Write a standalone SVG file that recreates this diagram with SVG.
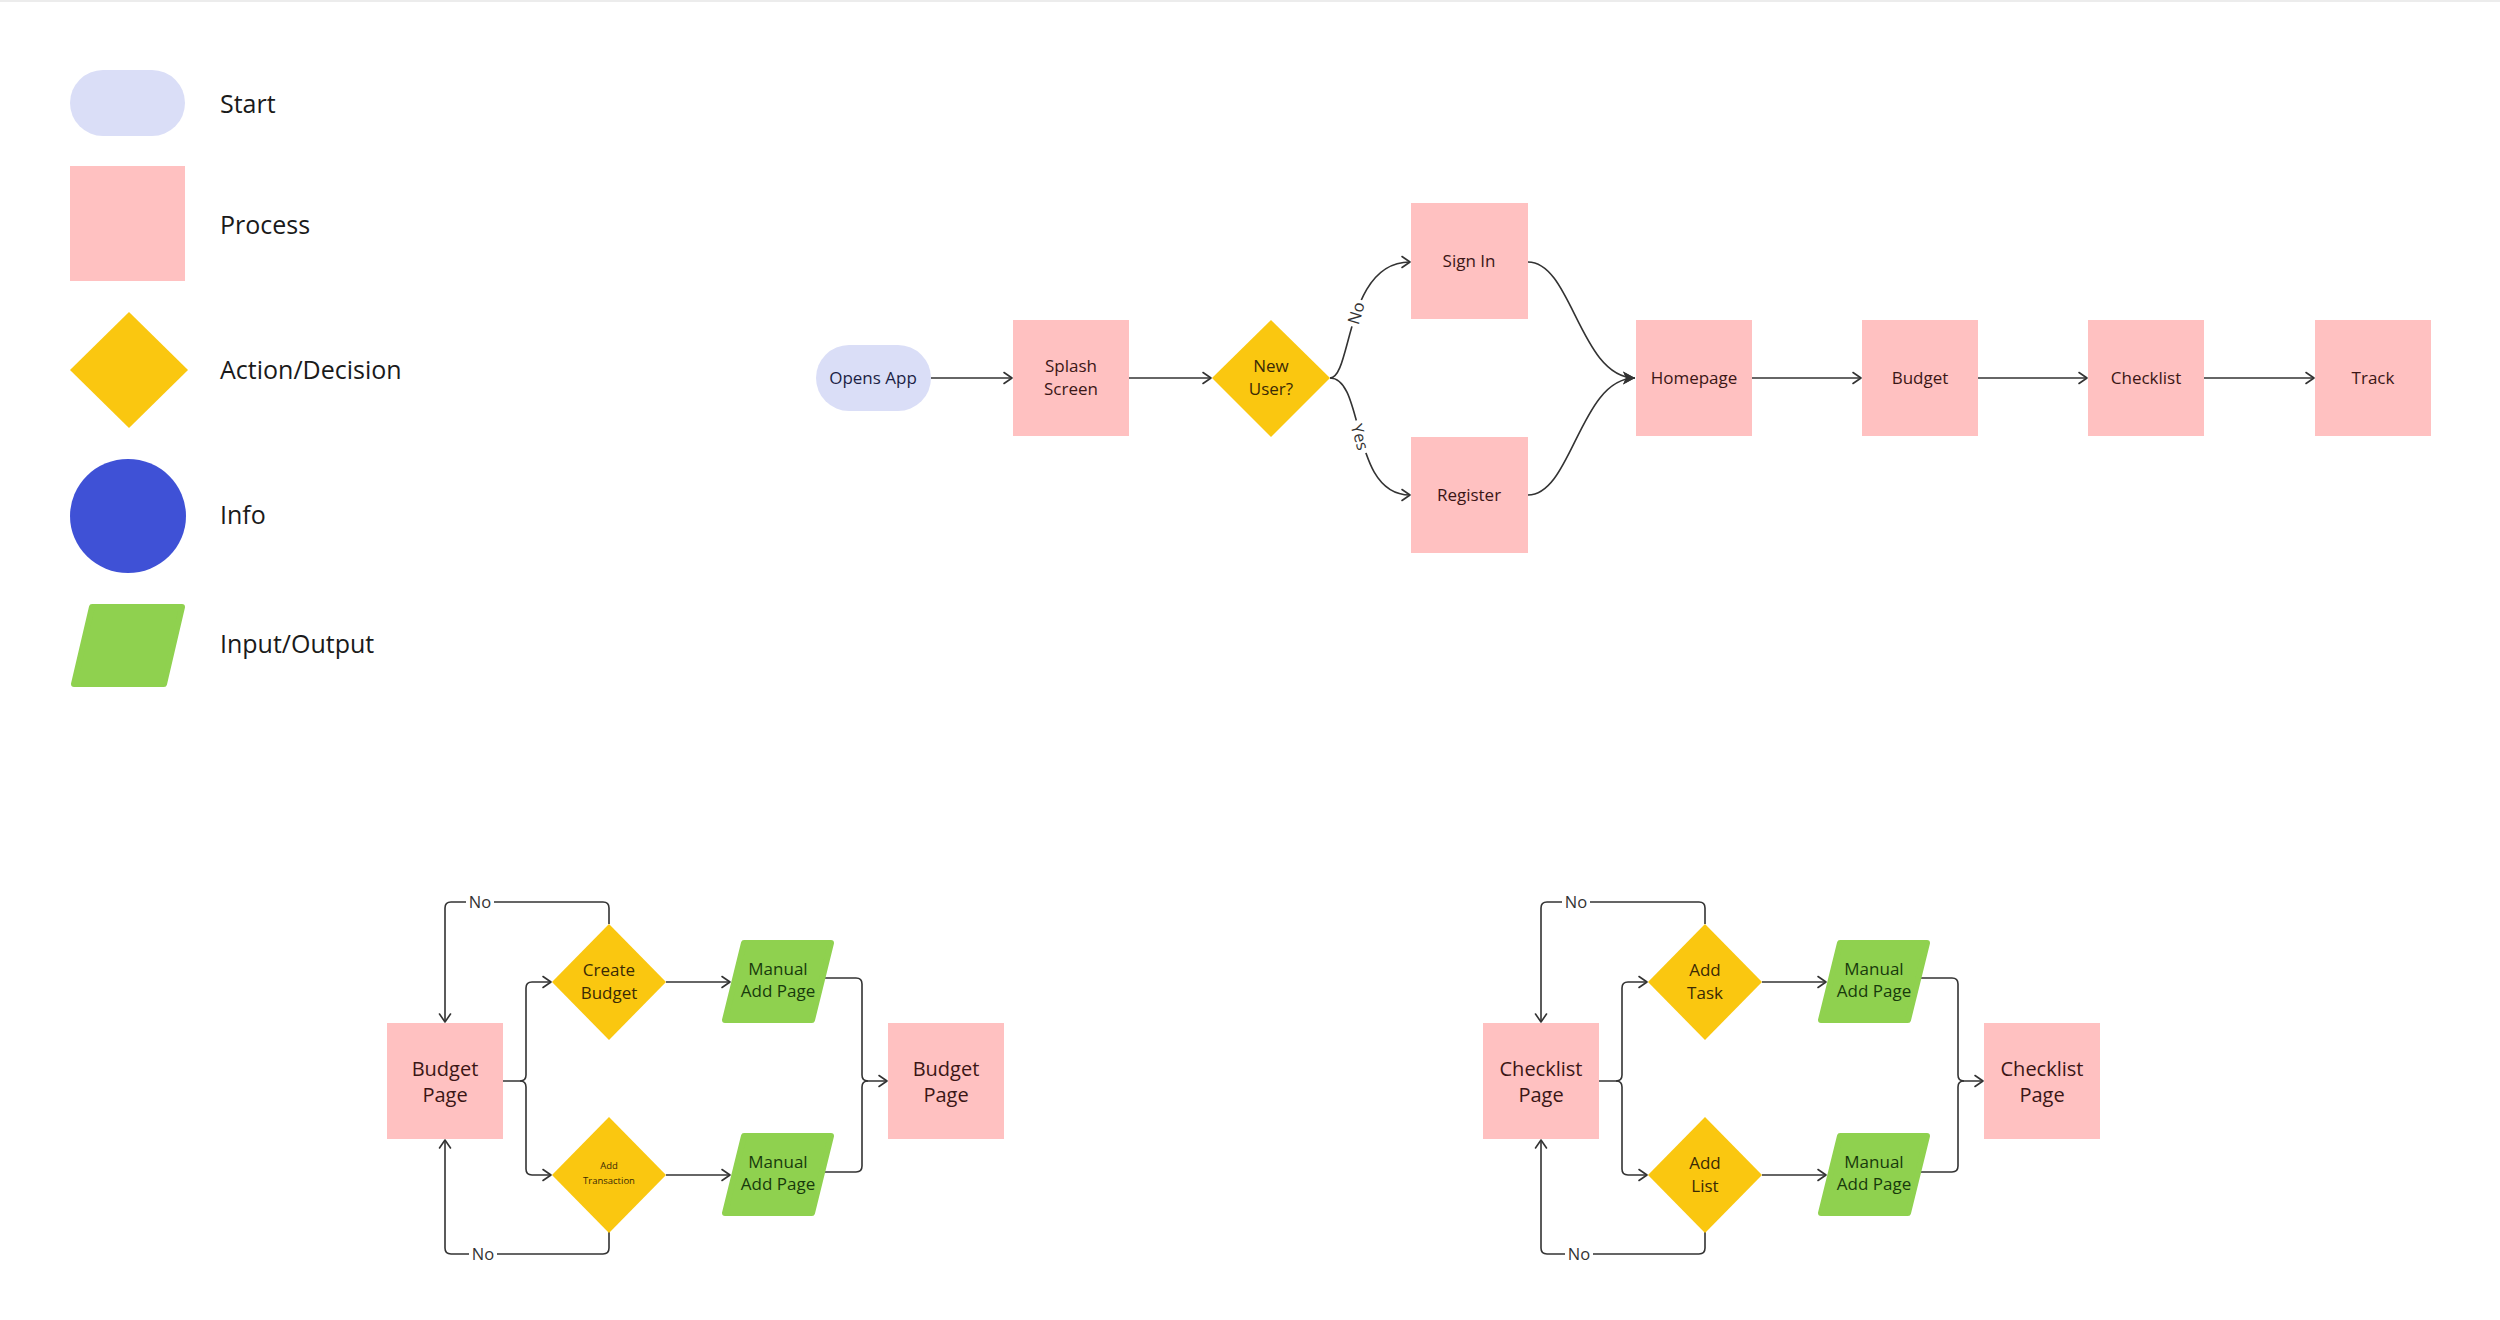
<svg xmlns="http://www.w3.org/2000/svg" width="2500" height="1320" viewBox="0 0 2500 1320">
  <style>
    text { font-family: "Open Sans", "Noto Sans", "Liberation Sans", sans-serif; text-anchor: middle; }
    .leg { font-size: 25px; fill: #1a1a1a; text-anchor: start; }
    .pink { fill: #FFC1C1; }
    .lav { fill: #DADEF7; }
    .yel { fill: #FAC710; }
    .grn { fill: #8FD14F; stroke: #8FD14F; stroke-width: 6; stroke-linejoin: round; }
    .blu { fill: #3F51D6; }
    .tp { font-size: 17px; fill: #3b1616; }
    .tpb { font-size: 20px; fill: #3b1616; }
    .ty { font-size: 17px; fill: #3a2a05; }
    .tys { font-size: 9.5px; fill: #3a2a05; }
    .tg { font-size: 17px; fill: #183a0c; }
    .tl { font-size: 17px; fill: #1c1f45; }
    .lbl { font-size: 16.5px; fill: #333333; }
    .c { fill: none; stroke: #333333; stroke-width: 1.6; }
    .a { marker-end: url(#arr); }
    .ab { marker-end: url(#arrb); }
  </style>
  <defs>
    <marker id="arr" markerUnits="userSpaceOnUse" markerWidth="14" markerHeight="14" refX="11" refY="7" orient="auto">
      <path d="M3,1.5 L11,7 L3,12.5" fill="none" stroke="#333333" stroke-width="1.6" stroke-linejoin="round" stroke-linecap="round"/>
    </marker>
    <marker id="arrb" markerUnits="userSpaceOnUse" markerWidth="16" markerHeight="16" refX="13" refY="8" orient="auto">
      <path d="M1,1.5 L13,8 L1,14.5 L4,8 z" fill="#333333"/>
    </marker>
  </defs>

  <rect x="0" y="0" width="2500" height="1320" fill="#ffffff"/>
  <line x1="0" y1="1" x2="2500" y2="1" stroke="#ececec" stroke-width="2"/>

  <!-- Legend -->
  <g id="legend-start">
    <rect class="lav" x="70" y="70" width="115" height="66" rx="33"/>
    <text class="leg" x="220" y="113">Start</text>
  </g>
  <g id="legend-process">
    <rect class="pink" x="70" y="166" width="115" height="115"/>
    <text class="leg" x="220" y="234">Process</text>
  </g>
  <g id="legend-decision">
    <polygon class="yel" points="129,312 188,370 129,428 70,370"/>
    <text class="leg" x="220" y="379">Action/Decision</text>
  </g>
  <g id="legend-info">
    <ellipse class="blu" cx="128" cy="516" rx="58" ry="57"/>
    <text class="leg" x="220" y="524">Info</text>
  </g>
  <g id="legend-io">
    <polygon class="grn" points="92,607 182,607 164,684 74,684"/>
    <text class="leg" x="220" y="653">Input/Output</text>
  </g>

  <!-- Connectors -->
  <g id="connectors">
    <path class="c a" d="M931,378 H1012"/>
    <path class="c a" d="M1129,378 H1211"/>
    <path class="c a" d="M1330,378 C1352,378 1345,262 1410,262"/>
    <path class="c a" d="M1330,378 C1365,378 1350,495 1410,495"/>
    <path class="c ab" d="M1528,262 C1572,262 1580,378 1635,378"/>
    <path class="c ab" d="M1528,495 C1572,495 1580,378 1635,378"/>
    <path class="c a" d="M1752,378 H1861"/>
    <path class="c a" d="M1978,378 H2087"/>
    <path class="c a" d="M2204,378 H2314"/>

    <!-- Budget section -->
    <path class="c a" d="M503,1081 H520 Q526,1081 526,1075 V988 Q526,982 532,982 H551"/>
    <path class="c a" d="M520,1081 Q526,1081 526,1087 V1169 Q526,1175 532,1175 H551"/>
    <path class="c a" d="M666,982 H730"/>
    <path class="c a" d="M666,1175 H730"/>
    <path class="c a" d="M824,978 H856 Q862,978 862,984 V1075 Q862,1081 868,1081 H887"/>
    <path class="c" d="M824,1172 H856 Q862,1172 862,1166 V1087 Q862,1081 868,1081"/>
    <path class="c a" d="M609,924 V908 Q609,902 603,902 H451 Q445,902 445,908 V1022"/>
    <path class="c a" d="M609,1232 V1248 Q609,1254 603,1254 H451 Q445,1254 445,1248 V1140"/>

    <!-- Checklist section -->
    <path class="c a" d="M1599,1081 H1616 Q1622,1081 1622,1075 V988 Q1622,982 1628,982 H1647"/>
    <path class="c a" d="M1616,1081 Q1622,1081 1622,1087 V1169 Q1622,1175 1628,1175 H1647"/>
    <path class="c a" d="M1762,982 H1826"/>
    <path class="c a" d="M1762,1175 H1826"/>
    <path class="c a" d="M1920,978 H1952 Q1958,978 1958,984 V1075 Q1958,1081 1964,1081 H1983"/>
    <path class="c" d="M1920,1172 H1952 Q1958,1172 1958,1166 V1087 Q1958,1081 1964,1081"/>
    <path class="c a" d="M1705,924 V908 Q1705,902 1699,902 H1547 Q1541,902 1541,908 V1022"/>
    <path class="c a" d="M1705,1232 V1248 Q1705,1254 1699,1254 H1547 Q1541,1254 1541,1248 V1140"/>

    <!-- labels -->
    <g transform="translate(1356,313) rotate(-73)">
      <rect x="-14" y="-9" width="28" height="18" fill="#ffffff"/>
      <text class="lbl" x="0" y="6">No</text>
    </g>
    <g transform="translate(1360,437) rotate(74)">
      <rect x="-17" y="-9" width="34" height="18" fill="#ffffff"/>
      <text class="lbl" x="0" y="6">Yes</text>
    </g>
    <rect x="466" y="892" width="28" height="20" fill="#ffffff"/>
    <text class="lbl" x="480" y="908">No</text>
    <rect x="469" y="1244" width="28" height="20" fill="#ffffff"/>
    <text class="lbl" x="483" y="1260">No</text>
    <rect x="1562" y="892" width="28" height="20" fill="#ffffff"/>
    <text class="lbl" x="1576" y="908">No</text>
    <rect x="1565" y="1244" width="28" height="20" fill="#ffffff"/>
    <text class="lbl" x="1579" y="1260">No</text>
  </g>

  <!-- Main flow nodes -->
  <g id="opens-app">
    <rect class="lav" x="816" y="345" width="115" height="66" rx="33"/>
    <text class="tl" x="873" y="384">Opens App</text>
  </g>
  <g id="splash-screen">
    <rect class="pink" x="1013" y="320" width="116" height="116"/>
    <text class="tp" x="1071" y="372">Splash</text>
    <text class="tp" x="1071" y="395">Screen</text>
  </g>
  <g id="new-user">
    <polygon class="yel" points="1271,320 1330,378 1271,437 1212,378"/>
    <text class="ty" x="1271" y="372">New</text>
    <text class="ty" x="1271" y="395">User?</text>
  </g>
  <g id="sign-in">
    <rect class="pink" x="1411" y="203" width="117" height="116"/>
    <text class="tp" x="1469" y="267">Sign In</text>
  </g>
  <g id="register">
    <rect class="pink" x="1411" y="437" width="117" height="116"/>
    <text class="tp" x="1469" y="501">Register</text>
  </g>
  <g id="homepage">
    <rect class="pink" x="1636" y="320" width="116" height="116"/>
    <text class="tp" x="1694" y="384">Homepage</text>
  </g>
  <g id="budget">
    <rect class="pink" x="1862" y="320" width="116" height="116"/>
    <text class="tp" x="1920" y="384">Budget</text>
  </g>
  <g id="checklist">
    <rect class="pink" x="2088" y="320" width="116" height="116"/>
    <text class="tp" x="2146" y="384">Checklist</text>
  </g>
  <g id="track">
    <rect class="pink" x="2315" y="320" width="116" height="116"/>
    <text class="tp" x="2373" y="384">Track</text>
  </g>

  <!-- Budget section nodes -->
  <g id="budget-page-left">
    <rect class="pink" x="387" y="1023" width="116" height="116"/>
    <text class="tpb" x="445" y="1076">Budget</text>
    <text class="tpb" x="445" y="1102">Page</text>
  </g>
  <g id="create-budget">
    <polygon class="yel" points="609,924 666,982 609,1040 552,982"/>
    <text class="ty" x="609" y="976">Create</text>
    <text class="ty" x="609" y="999">Budget</text>
  </g>
  <g id="add-transaction">
    <polygon class="yel" points="609,1117 666,1175 609,1233 552,1175"/>
    <text class="tys" x="609" y="1169">Add</text>
    <text class="tys" x="609" y="1184">Transaction</text>
  </g>
  <g id="budget-manual-1">
    <polygon class="grn" points="744,943 831,943 812,1020 725,1020"/>
    <text class="tg" x="778" y="975">Manual</text>
    <text class="tg" x="778" y="997">Add Page</text>
  </g>
  <g id="budget-manual-2">
    <polygon class="grn" points="744,1136 831,1136 812,1213 725,1213"/>
    <text class="tg" x="778" y="1168">Manual</text>
    <text class="tg" x="778" y="1190">Add Page</text>
  </g>
  <g id="budget-page-right">
    <rect class="pink" x="888" y="1023" width="116" height="116"/>
    <text class="tpb" x="946" y="1076">Budget</text>
    <text class="tpb" x="946" y="1102">Page</text>
  </g>

  <!-- Checklist section nodes -->
  <g id="checklist-page-left">
    <rect class="pink" x="1483" y="1023" width="116" height="116"/>
    <text class="tpb" x="1541" y="1076">Checklist</text>
    <text class="tpb" x="1541" y="1102">Page</text>
  </g>
  <g id="add-task">
    <polygon class="yel" points="1705,924 1762,982 1705,1040 1648,982"/>
    <text class="ty" x="1705" y="976">Add</text>
    <text class="ty" x="1705" y="999">Task</text>
  </g>
  <g id="add-list">
    <polygon class="yel" points="1705,1117 1762,1175 1705,1233 1648,1175"/>
    <text class="ty" x="1705" y="1169">Add</text>
    <text class="ty" x="1705" y="1192">List</text>
  </g>
  <g id="checklist-manual-1">
    <polygon class="grn" points="1840,943 1927,943 1908,1020 1821,1020"/>
    <text class="tg" x="1874" y="975">Manual</text>
    <text class="tg" x="1874" y="997">Add Page</text>
  </g>
  <g id="checklist-manual-2">
    <polygon class="grn" points="1840,1136 1927,1136 1908,1213 1821,1213"/>
    <text class="tg" x="1874" y="1168">Manual</text>
    <text class="tg" x="1874" y="1190">Add Page</text>
  </g>
  <g id="checklist-page-right">
    <rect class="pink" x="1984" y="1023" width="116" height="116"/>
    <text class="tpb" x="2042" y="1076">Checklist</text>
    <text class="tpb" x="2042" y="1102">Page</text>
  </g>
</svg>
